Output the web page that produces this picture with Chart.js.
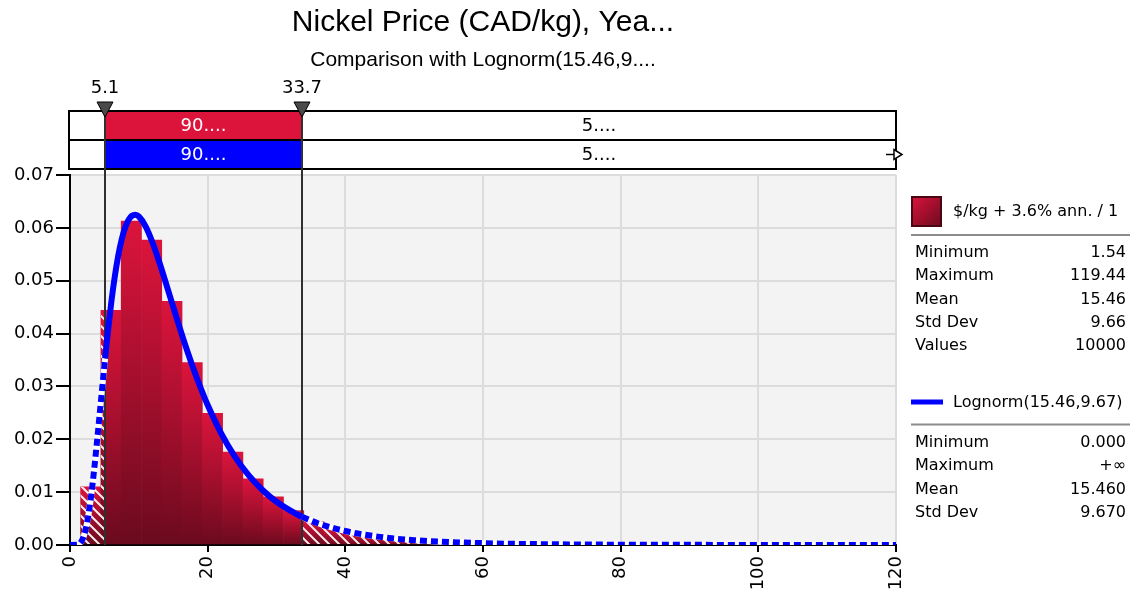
<!DOCTYPE html>
<html>
<head>
<meta charset="utf-8">
<script src="https://cdn.jsdelivr.net/npm/chart.js@4.4.1/dist/chart.umd.min.js"></script>
<style>
  html, body { margin: 0; padding: 0; background: #ffffff; }
  canvas { display: block; }
</style>
</head>
<body>
<canvas id="chart" width="1130" height="597"></canvas>
<script>
// ---- chart text ----
const titleText = 'Nickel Price (CAD/kg), Yea...';
const subtitleText = 'Comparison with Lognorm(15.46,9....';

// ---- histogram of 10000 simulated values: 40 equal bins between min and max ----
const binLow = 1.54;
const binHigh = 119.44;
const binDensity = [
  0.0110, 0.0444, 0.0613, 0.0577, 0.0461, 0.0345, 0.0249, 0.0176, 0.0125, 0.0091,
  0.0065, 0.0044, 0.0032, 0.0023, 0.0017, 0.0012, 0.0009, 0.0007, 0.0005, 0.0004,
  0.00028, 0.00022, 0.00015, 0.00012, 0.00008, 0.00007, 0.00005, 0.00007, 0.00003, 0.00007,
  0.00003, 0.00003, 0.00003, 0.0, 0.00003, 0.0, 0.0, 0.0, 0.0, 0.00003
];

// ---- fitted Lognorm(15.46, 9.67) density ----
const curveX = [
  0, 1, 1.5, 2, 2.5, 3, 3.5, 4, 4.5, 5, 5.1, 5.5, 6, 6.5, 7, 7.5, 8, 8.5, 9, 9.5,
  10, 11, 12, 13, 14, 15, 16, 17, 18, 19, 20, 22, 24, 26, 28, 30, 33, 33.7, 36, 40,
  45, 50, 60, 70, 80, 90, 100, 110, 120
];
const curveY = [
  0, 0.00003, 0.00038, 0.00165, 0.00435, 0.00861, 0.01416, 0.02057, 0.02734, 0.03404,
  0.03531, 0.04029, 0.04592, 0.05073, 0.05467, 0.05776, 0.06001, 0.06149, 0.06229, 0.06248,
  0.06215, 0.06025, 0.05718, 0.05340, 0.04926, 0.04503, 0.04085, 0.03686, 0.03312, 0.02966,
  0.02649, 0.02103, 0.01662, 0.01312, 0.01036, 0.00819, 0.00579, 0.00534, 0.00411, 0.00264,
  0.00154, 0.00092, 0.00035, 0.00014, 0.00006, 0.00003, 0.00001, 0.00001, 0.0
];

// ---- delimiters and the probability band above the plot ----
const delimiters = [5.1, 33.7];
const bandLabelsHist = ['', '90....', '5....'];
const bandLabelsFit = ['', '90....', '5....'];

// ---- axes ----
const xMin = 0, xMax = 120, xStep = 20;
const yMin = 0, yMax = 0.07, yStep = 0.01;

// ---- side panel ----
const histName = '$/kg + 3.6% ann. / 1';
const histStatNames = ['Minimum', 'Maximum', 'Mean', 'Std Dev', 'Values'];
const histStatValues = ['1.54', '119.44', '15.46', '9.66', '10000'];
const fitName = 'Lognorm(15.46,9.67)';
const fitStatNames = ['Minimum', 'Maximum', 'Mean', 'Std Dev'];
const fitStatValues = ['0.000', '+\u221E', '15.460', '9.670'];

// ---- build datasets ----
const binWidth = (binHigh - binLow) / binDensity.length;
const histPoints = binDensity.map((d, i) => ({ x: binLow + (i + 0.5) * binWidth, y: d }));
const curvePoints = curveX.map((x, i) => ({ x: x, y: curveY[i] }));

const FONT = '"DejaVu Sans", Verdana, sans-serif';
const TITLE_FONT = '"Liberation Sans", Arial, sans-serif';
const CRIMSON = '#dc143c';
const CRIMSON_DARK = '#6a0a1e';
const FIT_BLUE = '#0000ff';

function barFill(c) {
  if (c.type !== 'data' || !c.chart.scales || !c.chart.scales.y) return CRIMSON;
  const ys = c.chart.scales.y;
  const top = ys.getPixelForValue(c.raw.y);
  const base = ys.getPixelForValue(0);
  if (!isFinite(top) || !isFinite(base) || base - top < 1) return '#b81232';
  const g = c.chart.ctx.createLinearGradient(0, top, 0, base);
  g.addColorStop(0, CRIMSON);
  g.addColorStop(1, CRIMSON_DARK);
  return g;
}

// a curve segment lying outside the delimited range
function outsideRange(s) {
  return s.p1.parsed.x <= delimiters[0] + 1e-9 || s.p0.parsed.x >= delimiters[1] - 1e-9;
}

// page and plot backgrounds
const backgroundPlugin = {
  id: 'backgrounds',
  beforeDraw(chart) {
    const { ctx, chartArea: a } = chart;
    ctx.save();
    ctx.fillStyle = '#ffffff';
    ctx.fillRect(0, 0, chart.width, chart.height);
    ctx.fillStyle = '#f3f3f3';
    ctx.fillRect(a.left, a.top, a.right - a.left, a.bottom - a.top);
    ctx.restore();
  }
};

// white hatching on the histogram outside the delimiters, plus the delimiter lines
const hatchPlugin = {
  id: 'hatch',
  afterDatasetDraw(chart, args) {
    if (args.index !== 0) return;
    const { ctx, chartArea: a } = chart;
    const xs = chart.scales.x;
    const lo = xs.getPixelForValue(delimiters[0]);
    const hi = xs.getPixelForValue(delimiters[1]);
    const meta = chart.getDatasetMeta(0);
    ctx.save();
    ctx.beginPath();
    ctx.rect(a.left, a.top, a.right - a.left, a.bottom - a.top);
    ctx.clip();
    ctx.beginPath();
    meta.data.forEach(bar => {
      const p = bar.getProps(['x', 'y', 'base', 'width'], true);
      const l = p.x - p.width / 2, r = p.x + p.width / 2;
      const h = p.base - p.y;
      if (h <= 0) return;
      if (l < lo) ctx.rect(l, p.y, Math.min(r, lo) - l, h);
      if (r > hi) { const s = Math.max(l, hi); ctx.rect(s, p.y, r - s, h); }
    });
    ctx.clip();
    ctx.strokeStyle = 'rgba(255,255,255,0.92)';
    ctx.lineWidth = 2;
    const H = a.bottom - a.top;
    ctx.beginPath();
    for (let x = a.left - H; x < a.right + H; x += 10) {
      ctx.moveTo(x, a.top);
      ctx.lineTo(x + H, a.bottom);
    }
    ctx.stroke();
    ctx.restore();

    ctx.save();
    ctx.strokeStyle = '#303030';
    ctx.lineWidth = 2;
    ctx.beginPath();
    [lo, hi].forEach(px => {
      const x = Math.round(px);
      ctx.moveTo(x, a.top);
      ctx.lineTo(x, a.bottom);
    });
    ctx.stroke();
    ctx.restore();
  }
};

// probability band with delimiter markers above the plot
const bandPlugin = {
  id: 'band',
  afterDraw(chart) {
    const { ctx, chartArea: a } = chart;
    const xs = chart.scales.x;
    const x0 = xs.getPixelForValue(xMin) - 1;
    const x1 = xs.getPixelForValue(xMax);
    const d = delimiters.map(v => Math.round(xs.getPixelForValue(v)));
    const rowTop = a.top - 64;
    const rowH = 29;
    const rows = [
      { fill: CRIMSON, labels: bandLabelsHist },
      { fill: FIT_BLUE, labels: bandLabelsFit }
    ];
    ctx.save();
    ctx.font = '18px ' + FONT;
    ctx.textAlign = 'center';
    ctx.textBaseline = 'middle';
    rows.forEach((row, r) => {
      const y = rowTop + r * rowH;
      ctx.fillStyle = '#ffffff';
      ctx.fillRect(x0, y, x1 - x0, rowH);
      ctx.fillStyle = row.fill;
      ctx.fillRect(d[0], y, d[1] - d[0], rowH);
      const spans = [[x0, d[0]], [d[0], d[1]], [d[1], x1]];
      spans.forEach((sp, k) => {
        if (!row.labels[k]) return;
        ctx.fillStyle = k === 1 ? '#ffffff' : '#000000';
        ctx.fillText(row.labels[k], (sp[0] + sp[1]) / 2, y + rowH / 2 + 1);
      });
    });
    ctx.strokeStyle = '#000000';
    ctx.lineWidth = 2;
    ctx.strokeRect(x0, rowTop, x1 - x0, rowH * 2);
    ctx.beginPath();
    ctx.moveTo(x0, rowTop + rowH);
    ctx.lineTo(x1, rowTop + rowH);
    ctx.stroke();

    // delimiter lines through the band down to the plot
    ctx.strokeStyle = '#303030';
    ctx.beginPath();
    d.forEach(x => { ctx.moveTo(x, rowTop); ctx.lineTo(x, a.top); });
    ctx.stroke();

    // markers and values
    d.forEach((x, k) => {
      ctx.beginPath();
      ctx.moveTo(x - 8, rowTop - 9);
      ctx.lineTo(x + 8, rowTop - 9);
      ctx.lineTo(x, rowTop + 6);
      ctx.closePath();
      ctx.fillStyle = '#4a4a4a';
      ctx.fill();
      ctx.lineWidth = 1;
      ctx.strokeStyle = '#000000';
      ctx.stroke();
      ctx.fillStyle = '#000000';
      ctx.fillText(delimiters[k].toFixed(1), x, rowTop - 23);
    });

    // open-ended arrow on the fitted row
    const cy = rowTop + rowH * 1.5;
    ctx.lineWidth = 1.5;
    ctx.beginPath();
    ctx.moveTo(x1 - 10, cy);
    ctx.lineTo(x1 - 2, cy);
    ctx.stroke();
    ctx.beginPath();
    ctx.moveTo(x1 - 2, cy - 5);
    ctx.lineTo(x1 + 6, cy);
    ctx.lineTo(x1 - 2, cy + 5);
    ctx.closePath();
    ctx.fillStyle = '#ffffff';
    ctx.fill();
    ctx.stroke();
    ctx.restore();
  }
};

// legend and summary statistics to the right of the plot
const panelPlugin = {
  id: 'statsPanel',
  afterDraw(chart) {
    const { ctx, chartArea: a } = chart;
    const left = a.right + 15;
    const right = chart.width - 4;
    const rowStep = 23.3;
    ctx.save();
    ctx.font = '16px ' + FONT;
    ctx.textBaseline = 'middle';

    // histogram swatch
    const sw = ctx.createLinearGradient(left, 196, left + 31, 227);
    sw.addColorStop(0, CRIMSON);
    sw.addColorStop(1, CRIMSON_DARK);
    ctx.fillStyle = sw;
    ctx.fillRect(left, 196, 31, 31);
    ctx.strokeStyle = '#4a0612';
    ctx.lineWidth = 2;
    ctx.strokeRect(left + 1, 197, 29, 29);
    ctx.fillStyle = '#000000';
    ctx.textAlign = 'left';
    ctx.fillText(histName, left + 42, 212);

    ctx.strokeStyle = '#8c8c8c';
    ctx.lineWidth = 2;
    ctx.beginPath();
    ctx.moveTo(left, 235);
    ctx.lineTo(chart.width, 235);
    ctx.stroke();

    histStatNames.forEach((n, i) => {
      const y = 253 + i * rowStep;
      ctx.textAlign = 'left';
      ctx.fillText(n, left + 4, y);
      ctx.textAlign = 'right';
      ctx.fillText(histStatValues[i], right, y);
    });

    // fitted distribution line
    ctx.strokeStyle = FIT_BLUE;
    ctx.lineWidth = 5;
    ctx.beginPath();
    ctx.moveTo(left, 402);
    ctx.lineTo(left + 32, 402);
    ctx.stroke();
    ctx.textAlign = 'left';
    ctx.fillText(fitName, left + 42, 403);

    ctx.strokeStyle = '#8c8c8c';
    ctx.lineWidth = 2;
    ctx.beginPath();
    ctx.moveTo(left, 424.5);
    ctx.lineTo(chart.width, 424.5);
    ctx.stroke();

    fitStatNames.forEach((n, i) => {
      const y = 443 + i * rowStep;
      ctx.textAlign = 'left';
      ctx.fillText(n, left + 4, y);
      ctx.textAlign = 'right';
      ctx.fillText(fitStatValues[i], right, y);
    });
    ctx.restore();
  }
};

new Chart(document.getElementById('chart'), {
  type: 'bar',
  data: {
    datasets: [
      {
        type: 'bar',
        label: histName,
        data: histPoints,
        backgroundColor: barFill,
        borderWidth: 0,
        barPercentage: 1,
        categoryPercentage: 1,
        order: 3
      },
      {
        type: 'line',
        label: 'fit-underlay',
        data: curvePoints,
        borderColor: '#ffffff',
        borderWidth: 6,
        pointRadius: 0,
        fill: false,
        cubicInterpolationMode: 'monotone',
        segment: {
          borderColor: s => outsideRange(s) ? '#ffffff' : 'rgba(0,0,0,0)'
        },
        order: 2
      },
      {
        type: 'line',
        label: fitName,
        data: curvePoints,
        borderColor: FIT_BLUE,
        borderWidth: 6,
        borderCapStyle: 'butt',
        pointRadius: 0,
        fill: false,
        cubicInterpolationMode: 'monotone',
        segment: {
          borderDash: s => outsideRange(s) ? [7, 4] : undefined
        },
        order: 1
      }
    ]
  },
  options: {
    responsive: false,
    animation: false,
    devicePixelRatio: 1,
    layout: { padding: { left: 0, right: 234, top: 0, bottom: 0 } },
    plugins: {
      legend: { display: false },
      tooltip: { enabled: false },
      title: {
        display: true,
        text: titleText,
        fullSize: false,
        color: '#000000',
        font: { family: TITLE_FONT, size: 30, weight: 'normal' },
        padding: { top: 5, bottom: 1 }
      },
      subtitle: {
        display: true,
        text: subtitleText,
        fullSize: false,
        color: '#000000',
        font: { family: TITLE_FONT, size: 21, weight: 'normal' },
        padding: { top: 5.4, bottom: 102.4 }
      }
    },
    scales: {
      x: {
        type: 'linear',
        min: xMin,
        max: xMax,
        offset: false,
        ticks: {
          stepSize: xStep,
          minRotation: 90,
          maxRotation: 90,
          color: '#000000',
          padding: 4,
          font: { family: FONT, size: 18 }
        },
        grid: { color: '#dcdcdc', lineWidth: 2, offset: false, tickColor: '#000000', tickLength: 7 },
        border: { color: '#000000', width: 2 },
        afterFit(scale) { scale.height = 52; scale.paddingLeft = 0; scale.paddingRight = 0; }
      },
      y: {
        min: yMin,
        max: yMax,
        ticks: {
          stepSize: yStep,
          color: '#000000',
          padding: 2,
          font: { family: FONT, size: 18 },
          callback: v => Number(v).toFixed(2)
        },
        grid: { color: '#dcdcdc', lineWidth: 2, tickColor: '#000000', tickLength: 14 },
        border: { color: '#000000', width: 2 },
        afterFit(scale) { scale.width = 70; scale.paddingTop = 0; scale.paddingBottom = 0; }
      }
    }
  },
  plugins: [backgroundPlugin, hatchPlugin, bandPlugin, panelPlugin]
});
</script>
</body>
</html>
